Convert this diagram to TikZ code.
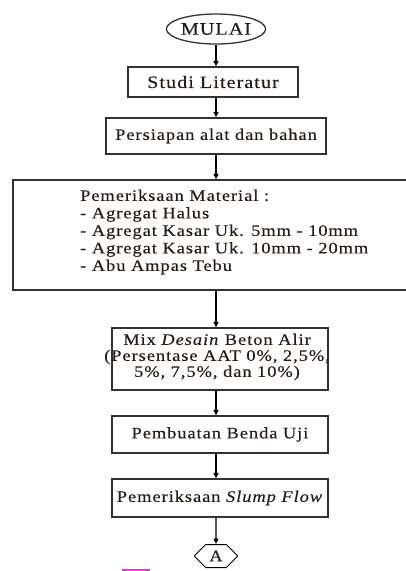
\documentclass[tikz,border=0pt]{standalone}
\usepackage{fontspec}
\setmainfont{Liberation Serif}[FakeStretch=1.15, LetterSpace=6, FakeBold=0.4]
\usetikzlibrary{shapes.geometric,shapes.misc,arrows.meta}
\definecolor{txt}{RGB}{38,30,22}
\definecolor{frame}{RGB}{50,50,50}
\definecolor{pinkmark}{RGB}{255,40,230}
\begin{document}
\begin{tikzpicture}[x=1pt,y=-1pt,
  every node/.style={font=\fontsize{16}{17.5}\selectfont, text=txt},
  procbox/.style={draw=frame, line width=1.3pt, rectangle, inner sep=0pt},
  flow/.style={line width=1.3pt, draw=black, -{Triangle[length=5.5pt,width=5pt]}},
  bigtext/.style={font=\fontsize{17.5}{18}\selectfont},
]
\useasboundingbox (0,0) rectangle (405,571);
\coordinate (axis) at (216,0);
\node[procbox, ellipse, minimum width=98pt, minimum height=30pt, bigtext] (start) at (216,29) {MULAI};
\node[procbox, minimum width=170pt, minimum height=30pt, bigtext] (studi) at (213,82) {Studi Literatur};
\node[procbox, minimum width=220pt, minimum height=36pt] (siap) at (216,136) {Persiapan alat dan bahan};
\node[procbox, minimum width=394pt, minimum height=110pt] (periksa) at (210,235) {};
\node[anchor=west, align=left, inner sep=0pt] (periksatxt) at (80,232)
  {Pemeriksaan Material :\\- Agregat Halus\\- Agregat Kasar Uk. 5mm - 10mm\\- Agregat Kasar Uk. 10mm - 20mm\\- Abu Ampas Tebu};
\node[procbox, minimum width=216pt, minimum height=62pt] (mix) at (220,359) {};
\node[align=center, inner sep=0pt, font=\fontsize{16}{16}\selectfont] (mixtxt) at (217,357)
  {Mix \textit{Desain} Beton Alir\\(Persentase AAT 0\%, 2,5\%,\\5\%, 7,5\%, dan 10\%)};
\node[procbox, minimum width=216pt, minimum height=37pt] (buat) at (220,434.5) {Pembuatan Benda Uji};
\node[procbox, minimum width=216pt, minimum height=38pt] (slump) at (220,498) {Pemeriksaan \textit{Slump Flow}};
\node[draw=black, line width=1pt, chamfered rectangle, chamfered rectangle xsep=11pt, chamfered rectangle ysep=6pt,
  minimum width=43pt, minimum height=23pt, inner sep=0pt] (A) at (216,556) {A};
\draw[flow] (start) -- (start |- studi.north);
\draw[flow] (start |- studi.south) -- (start |- siap.north);
\draw[flow] (siap.south) -- (siap.south |- periksa.north);
\draw[flow] (periksa.south -| axis) -- (mix.north -| axis);
\draw[flow] (mix.south -| axis) -- (buat.north -| axis);
\draw[flow] (buat.south -| axis) -- (slump.north -| axis);
\draw[flow] (slump.south -| axis) -- (A);
\coordinate (pinkL) at (122,569.5);
\coordinate (pinkR) at (150,569.5);
\draw[pinkmark, line width=2pt] (pinkL) -- (pinkR);
\end{tikzpicture}
\end{document}
